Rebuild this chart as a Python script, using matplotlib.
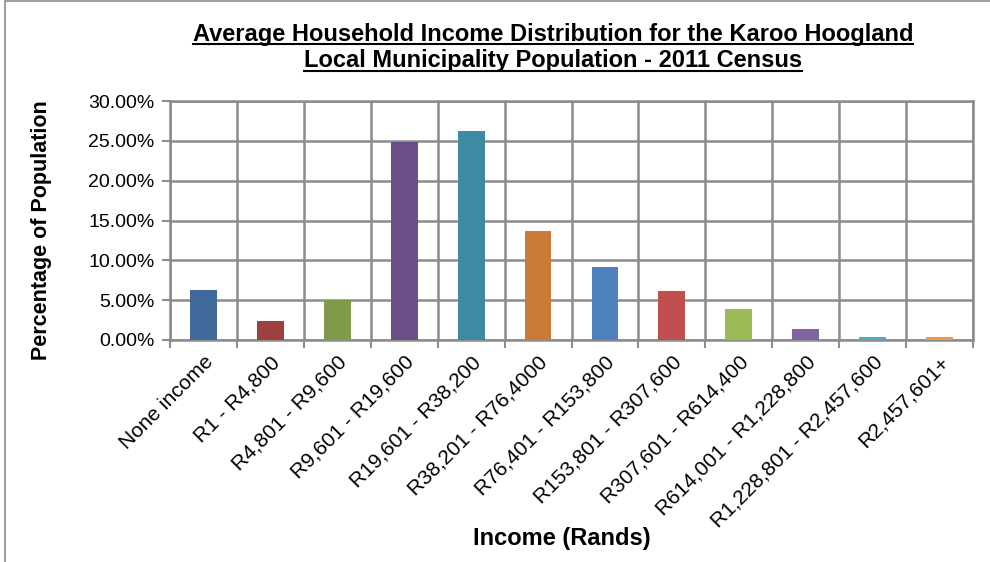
import matplotlib
matplotlib.use("Agg")
import matplotlib.pyplot as plt
from matplotlib.ticker import FuncFormatter, MultipleLocator
from matplotlib.lines import Line2D
from matplotlib.patches import Rectangle

plt.rcParams['font.family'] = ['Liberation Sans', 'DejaVu Sans']

categorias = ["None income", "R1 - R4,800", "R4,801 - R9,600", "R9,601 - R19,600",
              "R19,601 - R38,200", "R38,201 - R76,4000", "R76,401 - R153,800",
              "R153,801 - R307,600", "R307,601 - R614,400", "R614,001 - R1,228,800",
              "R1,228,801 - R2,457,600", "R2,457,601+"]
porcentajes = [6.27, 2.40, 5.02, 24.9, 26.2, 13.7, 9.16, 6.15, 3.9, 1.4, 0.38, 0.38]
colores = ["#41699C", "#9E403E", "#7F9A48", "#6A5086", "#3C8BA3", "#CB7A38",
           "#4F81BD", "#C0504D", "#9BBB59", "#8064A2", "#4BACC6", "#F79646"]

titulo = ["Average Household Income Distribution for the Karoo Hoogland",
          "Local Municipality Population - 2011 Census"]

fig = plt.figure(figsize=(9.9, 5.62), dpi=100)
fig.patches.append(Rectangle((0.005, -0.01), 1.2, 1.008, transform=fig.transFigure,
                             fill=False, edgecolor="#8C8C8C", linewidth=1.2))
ax = fig.add_axes([170 / 990, 1 - 340 / 562, 803 / 990, 239 / 562])

x = list(range(len(categorias)))
ax.bar(x, porcentajes, width=0.4, color=colores, zorder=3)

ax.set_xlim(-0.5, len(categorias) - 0.5)
ax.set_ylim(0, 30)
ax.yaxis.set_major_locator(MultipleLocator(5))
ax.yaxis.set_major_formatter(FuncFormatter(lambda v, p: "%.2f%%" % v))
ax.set_xticks(x)
ax.set_xticklabels(categorias, rotation=45, ha="right", rotation_mode="anchor",
                   fontsize=15)
ax.set_xticks([i - 0.5 for i in range(len(categorias) + 1)], minor=True)
ax.tick_params(axis="x", which="major", length=0, pad=9)
ax.tick_params(axis="x", which="minor", length=6, color="#8C8C8C", width=1.5)
ax.tick_params(axis="y", length=6, color="#8C8C8C", width=1.5, labelsize=14, pad=5)

ax.grid(True, axis="y", color="#8C8C8C", linewidth=1.8, zorder=0)
ax.grid(True, axis="x", which="minor", color="#8C8C8C", linewidth=1.8, zorder=0)
for lado in ax.spines.values():
    lado.set_color("#8C8C8C")
    lado.set_linewidth(1.8)

ax.set_ylabel("Percentage of Population", fontsize=15.5, fontweight="bold")
ax.yaxis.set_label_coords(-(170 - 52) / 803, 0.46)
fig.text(562 / 990, 1 - 538 / 562, "Income (Rands)", fontsize=17, fontweight="bold",
         ha="center", va="center")

textos = []
for i, linea in enumerate(titulo):
    t = fig.text(553 / 990, 1 - (34 + 27 * i) / 562, linea, fontsize=17,
                 fontweight="bold", ha="center", va="center")
    textos.append(t)

fig.canvas.draw()
renderer = fig.canvas.get_renderer()
for t in textos:
    bb = t.get_window_extent(renderer).transformed(fig.transFigure.inverted())
    y = bb.y0 + 0.002
    fig.lines.append(Line2D([bb.x0, bb.x1], [y, y], transform=fig.transFigure,
                            color="black", linewidth=1.5))

fig.savefig("out.png", dpi=100)
